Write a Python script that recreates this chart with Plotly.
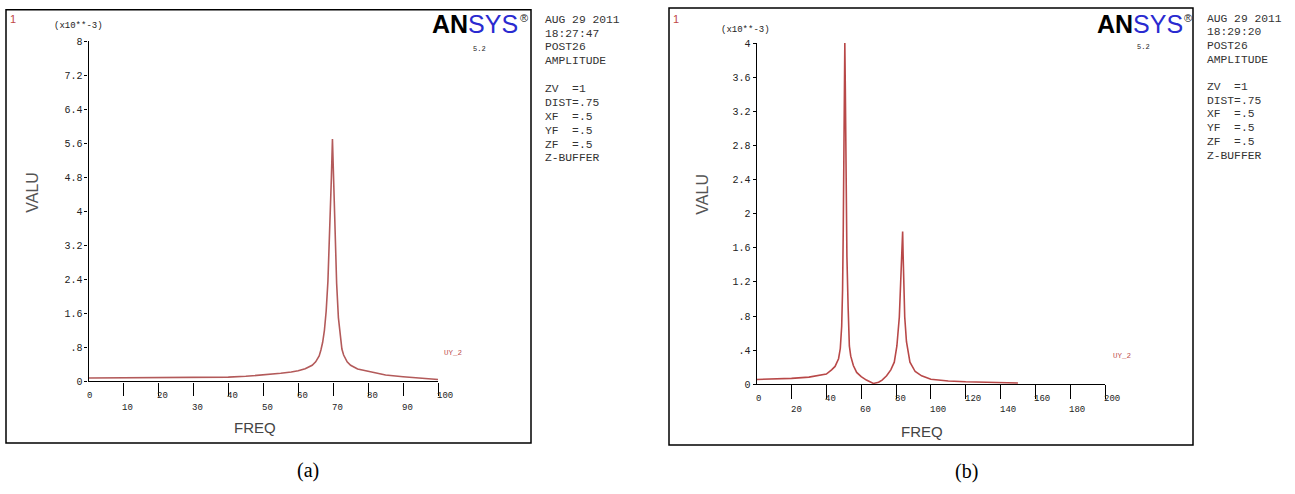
import plotly.graph_objects as go

W, H = 1295, 494

# ---------------- data (values in x10**-3) ----------------
freq_a = [0, 10, 20, 30, 40, 45, 50, 55, 58, 60, 62, 64, 65, 66, 66.5, 67, 67.5, 68, 68.5,
          68.8, 69.2, 69.5, 69.8, 70.1, 70.4, 70.7, 71.0, 71.5, 72, 72.5, 73, 74, 75, 77,
          80, 85, 90, 95, 100]
valu_a = [0.08, 0.085, 0.09, 0.095, 0.10, 0.12, 0.15, 0.19, 0.22, 0.25, 0.30, 0.38, 0.46,
          0.60, 0.74, 0.92, 1.2, 1.65, 2.35, 3.0, 4.0, 4.8, 5.7, 4.9, 3.9, 3.0, 2.3, 1.5,
          1.05, 0.76, 0.62, 0.46, 0.38, 0.29, 0.24, 0.15, 0.11, 0.07, 0.045]

freq_b = [0, 10, 20, 30, 40, 43, 45, 47, 48, 48.8, 49.3, 49.7, 50.0, 50.3, 50.6, 50.9, 51.3,
          51.8, 52.5, 53.2, 54, 55.5, 57.4, 60, 63, 67, 70, 72, 74.6, 77, 79, 80.5, 81.9,
          82.6, 83.2, 83.5, 83.8, 84.1, 84.5, 85, 86, 88, 91, 94.7, 100, 110, 120, 135, 150]
valu_b = [0.057, 0.062, 0.07, 0.085, 0.12, 0.17, 0.21, 0.30, 0.42, 0.68, 1.1, 1.8, 2.5,
          3.46, 4.0, 3.46, 2.4, 1.5, 0.9, 0.45, 0.33, 0.22, 0.14, 0.09, 0.05, 0.01, 0.025,
          0.05, 0.10, 0.17, 0.26, 0.45, 0.79, 1.2, 1.44, 1.59, 1.79, 1.5, 1.1, 0.79, 0.5,
          0.26, 0.15, 0.10, 0.06, 0.04, 0.03, 0.02, 0.015]

ytick_vals_a = [0, 0.8, 1.6, 2.4, 3.2, 4, 4.8, 5.6, 6.4, 7.2, 8]
ytick_text_a = ["0", ".8", "1.6", "2.4", "3.2", "4", "4.8", "5.6", "6.4", "7.2", "8"]
xtick_vals_a = [0, 10, 20, 30, 40, 50, 60, 70, 80, 90, 100]

ytick_vals_b = [0, 0.4, 0.8, 1.2, 1.6, 2, 2.4, 2.8, 3.2, 3.6, 4]
ytick_text_b = ["0", ".4", ".8", "1.2", "1.6", "2", "2.4", "2.8", "3.2", "3.6", "4"]
xtick_vals_b = [0, 20, 40, 60, 80, 100, 120, 140, 160, 180, 200]

info_a = ["AUG 29 2011", "18:27:47", "POST26", "AMPLITUDE", "", "ZV  =1", "DIST=.75",
          "XF  =.5", "YF  =.5", "ZF  =.5", "Z-BUFFER"]
info_b = ["AUG 29 2011", "18:29:20", "POST26", "AMPLITUDE", "", "ZV  =1", "DIST=.75",
          "XF  =.5", "YF  =.5", "ZF  =.5", "Z-BUFFER"]


def px(x):
    return x / W


def py(y):
    return 1 - y / H


fig = go.Figure()
fig.add_trace(go.Scatter(x=freq_a, y=valu_a, mode="lines", xaxis="x", yaxis="y",
                         line=dict(color="#b35a5a", width=1.6), showlegend=False,
                         hoverinfo="skip"))
fig.add_trace(go.Scatter(x=freq_b, y=valu_b, mode="lines", xaxis="x2", yaxis="y2",
                         line=dict(color="#b84848", width=1.6), showlegend=False,
                         hoverinfo="skip"))

tickfont = dict(family="Liberation Mono", size=10, color="#222")
axis_common = dict(showgrid=False, zeroline=False, showline=True, linecolor="black",
                   linewidth=1.2, ticks="outside", tickcolor="black", fixedrange=True)

# panel geometry (pixels)
ax_a = dict(x0=88.5, x1=438, y0=386, y1=38)
ax_b = dict(x0=756.7, x1=1105, y0=389, y1=40)

fig.update_layout(
    width=W, height=H, margin=dict(l=0, r=0, t=0, b=0),
    paper_bgcolor="white", plot_bgcolor="rgba(0,0,0,0)",
    xaxis=dict(domain=[px(ax_a["x0"]), px(ax_a["x1"])], range=[0, 100], anchor="y",
               tickvals=xtick_vals_a[1:], ticklen=13, tickwidth=1.2, showticklabels=False,
               **axis_common),
    yaxis=dict(domain=[py(ax_a["y0"]), py(ax_a["y1"])], range=[0, 8], anchor="x",
               tickvals=ytick_vals_a, ticktext=ytick_text_a, ticklen=3, tickwidth=1,
               tickfont=tickfont, **axis_common),
    xaxis2=dict(domain=[px(ax_b["x0"]), px(ax_b["x1"])], range=[0, 200], anchor="y2",
                tickvals=xtick_vals_b[1:], ticklen=14, tickwidth=1.2, showticklabels=False,
                **axis_common),
    yaxis2=dict(domain=[py(ax_b["y0"]), py(ax_b["y1"])], range=[0, 4], anchor="x2",
                tickvals=ytick_vals_b, ticktext=ytick_text_b, ticklen=3, tickwidth=1,
                tickfont=tickfont, **axis_common),
)

shapes = []
# outer frames
shapes.append(dict(type="rect", xref="paper", yref="paper", x0=px(6), x1=px(531),
                   y0=py(449), y1=py(6), line=dict(color="black", width=1.5)))
shapes.append(dict(type="rect", xref="paper", yref="paper", x0=px(669), x1=px(1193),
                   y0=py(451), y1=py(4), line=dict(color="black", width=1.5)))
fig.update_layout(shapes=shapes)

ann = []


def text(x, y, s, size, color="#222", family="Liberation Mono", xanchor="center",
         yanchor="middle", angle=0):
    ann.append(dict(x=px(x), y=py(y), xref="paper", yref="paper", text=s, showarrow=False,
                    font=dict(family=family, size=size, color=color), xanchor=xanchor,
                    yanchor=yanchor, textangle=angle))


# x tick labels (alternating rows, starting at the tick)
for i, v in enumerate(xtick_vals_a):
    ann.append(dict(x=v, y=py(401 if i % 2 == 0 else 413), xref="x", yref="paper",
                    text=str(v), showarrow=False, xshift=-3,
                    font=dict(family="Liberation Mono", size=9, color="#222"),
                    xanchor="left", yanchor="middle"))
for i, v in enumerate(xtick_vals_b):
    ann.append(dict(x=v, y=py(404 if i % 2 == 0 else 415.5), xref="x2", yref="paper",
                    text=str(v), showarrow=False, xshift=-3,
                    font=dict(family="Liberation Mono", size=9, color="#222"),
                    xanchor="left", yanchor="middle"))

# panel (a) texts
text(13, 15, "1", 11, color="#c04848", family="Liberation Sans")
text(78, 23, "(x10**-3)", 9, color="#222")
text(33, 193, "VALU", 16, color="#555", family="Liberation Sans", angle=-90)
text(255, 433, "FREQ", 15, color="#444", family="Liberation Sans")
text(453, 357, "UY_2", 7.5, color="#c05050")
text(430, 20, "<b>AN</b><span style='color:#2a2ad0'>SYS</span>", 25, color="black",
     family="Liberation Sans", xanchor="left")
text(524, 14, "®", 11, color="#222", family="Liberation Sans")
text(479, 46, "5.2", 7, color="#222")
for i, s in enumerate(info_a):
    if s:
        text(543, 16 + i * 14.2, s, 11.3, color="#333", xanchor="left")
text(308, 477, "(a)", 20, color="black", family="Liberation Serif")

# panel (b) texts
text(676, 15, "1", 11, color="#c04848", family="Liberation Sans")
text(745, 27, "(x10**-3)", 9, color="#222")
text(703, 195, "VALU", 16, color="#555", family="Liberation Sans", angle=-90)
text(922, 437, "FREQ", 15, color="#444", family="Liberation Sans")
text(1122, 360, "UY_2", 7.5, color="#c05050")
text(1095, 20, "<b>AN</b><span style='color:#2a2ad0'>SYS</span>", 25, color="black",
     family="Liberation Sans", xanchor="left")
text(1188, 14, "®", 11, color="#222", family="Liberation Sans")
text(1143, 44, "5.2", 7, color="#222")
for i, s in enumerate(info_b):
    if s:
        text(1205, 15 + i * 14.0, s, 11.3, color="#333", xanchor="left")
text(966, 478, "(b)", 20, color="black", family="Liberation Serif")

fig.update_layout(annotations=ann)
fig.write_html("out.html")
